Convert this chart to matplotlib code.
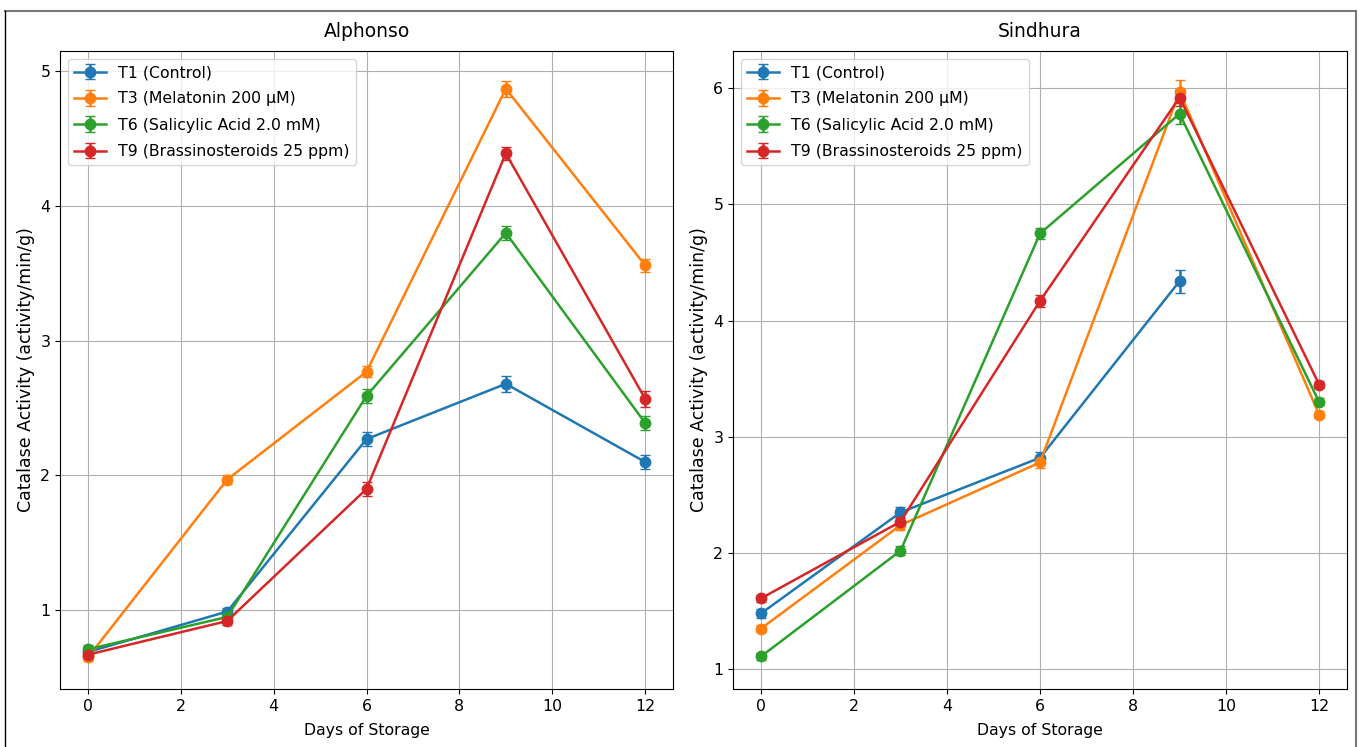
import numpy as np
import matplotlib
matplotlib.use('Agg')
import matplotlib.pyplot as plt
from matplotlib.lines import Line2D

days = [0, 3, 6, 9, 12]
labels = ['T1 (Control)', 'T3 (Melatonin 200 µM)',
          'T6 (Salicylic Acid 2.0 mM)', 'T9 (Brassinosteroids 25 ppm)']

# Alphonso
alph_t1 = [0.69, 0.99, 2.27, 2.68, 2.10]
alph_t3 = [0.65, 1.97, 2.77, 4.87, 3.56]
alph_t6 = [0.71, 0.95, 2.59, 3.80, 2.39]
alph_t9 = [0.67, 0.92, 1.90, 4.39, 2.57]
alph_t1_err = [0.03, 0.03, 0.05, 0.06, 0.05]
alph_t3_err = [0.03, 0.03, 0.04, 0.06, 0.05]
alph_t6_err = [0.03, 0.03, 0.05, 0.05, 0.05]
alph_t9_err = [0.03, 0.03, 0.05, 0.05, 0.06]

# Sindhura (T1 missing on day 12)
sind_t1 = [1.48, 2.35, 2.82, 4.34, np.nan]
sind_t3 = [1.35, 2.24, 2.78, 5.97, 3.19]
sind_t6 = [1.11, 2.02, 4.75, 5.78, 3.30]
sind_t9 = [1.61, 2.27, 4.17, 5.92, 3.45]
sind_t1_err = [0.04, 0.05, 0.05, 0.10, np.nan]
sind_t3_err = [0.03, 0.04, 0.05, 0.10, 0.03]
sind_t6_err = [0.03, 0.04, 0.05, 0.09, 0.03]
sind_t9_err = [0.03, 0.04, 0.05, 0.07, 0.03]

colors = ['#1f77b4', '#ff7f0e', '#2ca02c', '#d62728']

fig = plt.figure(figsize=(13.59, 7.47), dpi=100)
ax1 = fig.add_axes([0.0442, 0.0776, 0.451, 0.8541])
ax2 = fig.add_axes([0.5394, 0.0776, 0.4518, 0.8541])

panels = [
    (ax1, 'Alphonso', [alph_t1, alph_t3, alph_t6, alph_t9],
     [alph_t1_err, alph_t3_err, alph_t6_err, alph_t9_err]),
    (ax2, 'Sindhura', [sind_t1, sind_t3, sind_t6, sind_t9],
     [sind_t1_err, sind_t3_err, sind_t6_err, sind_t9_err]),
]

for ax, title, series, errs in panels:
    for vals, err, lab, c in zip(series, errs, labels, colors):
        ax.errorbar(days, vals, yerr=err, label=lab, color=c, marker='o',
                    markersize=7.5, capsize=3.5, linewidth=1.8)
    ax.set_title(title, fontsize=13.5, pad=10)
    ax.set_xlabel('Days of Storage', fontsize=11.3, labelpad=7)
    ax.set_ylabel('Catalase Activity (activity/min/g)', fontsize=12.5)
    ax.tick_params(labelsize=11.3)
    ax.grid(True)
    ax.legend(loc='upper left', fontsize=11.3, labelspacing=0.72)

ax1.set_ylim(0.415, 5.15)
ax2.set_ylim(0.83, 6.32)
ax1.set_yticks([1, 2, 3, 4, 5])
ax2.set_yticks([1, 2, 3, 4, 5, 6])

# screenshot frame
fig.add_artist(Line2D([5 / 1359, 1356 / 1359], [1 - 11 / 747, 1 - 11 / 747],
                      transform=fig.transFigure, color='#777777', linewidth=1.5))
fig.add_artist(Line2D([5 / 1359, 5 / 1359], [0, 1 - 11 / 747],
                      transform=fig.transFigure, color='black', linewidth=1.0))
fig.add_artist(Line2D([1356 / 1359, 1356 / 1359], [0, 1 - 11 / 747],
                      transform=fig.transFigure, color='#777777', linewidth=1.5))

fig.savefig('out.png', dpi=100)
